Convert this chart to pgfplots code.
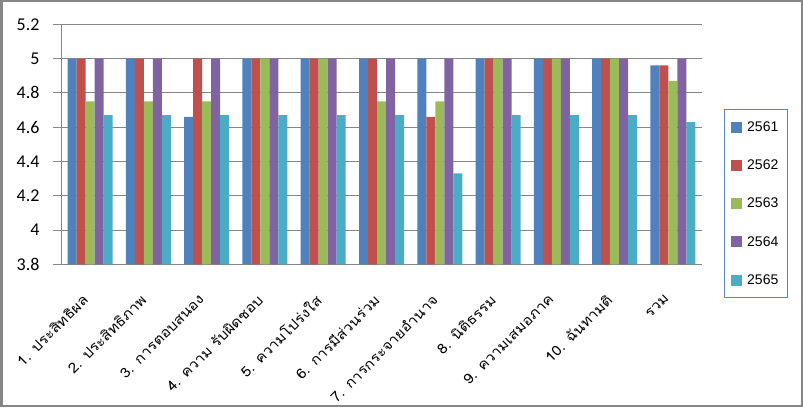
\documentclass[border=0pt]{standalone}
\usepackage{fontspec}
\usepackage{pgfplots}
\pgfplotsset{compat=1.18}
\setmainfont{Liberation Sans}
\newfontfamily\carlito{Carlito}
\newfontfamily\thaifont[Script=Thai,FakeStretch=1.1]{Loma}
\definecolor{c1}{HTML}{4F81BD}
\definecolor{c2}{HTML}{C0504D}
\definecolor{c3}{HTML}{9BBB59}
\definecolor{c4}{HTML}{8064A2}
\definecolor{c5}{HTML}{4BACC6}
\definecolor{gridc}{HTML}{868686}
\definecolor{legc}{HTML}{5B86C0}
\begin{document}
\begin{tikzpicture}[x=1pt,y=1pt]
\useasboundingbox (0,0) rectangle (803,407);
\draw[gridc,line width=2.5pt] (1.25,1.25) rectangle (801.75,405.75);
\begin{axis}[
  at={(61pt,142.7pt)}, anchor=south west,
  scale only axis, width=641pt, height=240pt,
  ybar=0pt, bar width=9pt,
  xmin=-0.5, xmax=10.5, ymin=3.8, ymax=5.2,
  axis lines*=left,
  axis line style={gridc, line width=0.8pt},
  ytick={3.8,4,4.2,4.4,4.6,4.8,5,5.2},
  yticklabels={3.8,4,4.2,4.4,4.6,4.8,5,5.2},
  ymajorgrids, grid style={gridc, line width=0.8pt},
  major tick style={gridc, line width=0.8pt},
  tick align=outside,
  major tick length=8pt,
  yticklabel style={font=\carlito\fontsize{18}{20}\selectfont, xshift=-10pt},
  xtick={0,1,2,3,4,5,6,7,8,9,10},
  xticklabels={{1. ประสิทธิผล},{2. ประสิทธิภาพ},{3. การตอบสนอง},{4. ความ รับผิดชอบ},{5. ความโปร่งใส},{6. การมีส่วนร่วม},{7. การกระจายอำนาจ},{8. นิติธรรม},{9. ความเสมอภาค},{10. ฉันทามติ},{รวม}},
  xticklabel style={font=\thaifont\fontsize{14}{15}\selectfont, xshift=-9pt, yshift=-16pt, rotate=45, anchor=north east},
  x tick style={draw=none},
  minor xtick={-0.5,0.5,...,10.5},
  minor tick length=7pt,
  minor x tick style={gridc, line width=0.8pt},
  legend style={at={(1.034,0.647)}, anchor=north west, draw=legc, line width=0.8pt,
    font=\fontsize{14}{16}\selectfont, row sep=23pt, inner xsep=7pt, inner ysep=10pt,
    /tikz/every odd column/.append style={column sep=3pt}},
  legend cell align=left,
  legend image code/.code={\fill[#1] (0pt,-5.5pt) rectangle (11pt,5.5pt);},
]
\addplot[fill=c1, draw=none] coordinates {(0,5) (1,5) (2,4.66) (3,5) (4,5) (5,5) (6,5) (7,5) (8,5) (9,5) (10,4.96)};
\addplot[fill=c2, draw=none] coordinates {(0,5) (1,5) (2,5) (3,5) (4,5) (5,5) (6,4.66) (7,5) (8,5) (9,5) (10,4.96)};
\addplot[fill=c3, draw=none] coordinates {(0,4.75) (1,4.75) (2,4.75) (3,5) (4,5) (5,4.75) (6,4.75) (7,5) (8,5) (9,5) (10,4.87)};
\addplot[fill=c4, draw=none] coordinates {(0,5) (1,5) (2,5) (3,5) (4,5) (5,5) (6,5) (7,5) (8,5) (9,5) (10,5)};
\addplot[fill=c5, draw=none] coordinates {(0,4.67) (1,4.67) (2,4.67) (3,4.67) (4,4.67) (5,4.67) (6,4.33) (7,4.67) (8,4.67) (9,4.67) (10,4.63)};
\legend{2561,2562,2563,2564,2565}
\end{axis}
\end{tikzpicture}
\end{document}
